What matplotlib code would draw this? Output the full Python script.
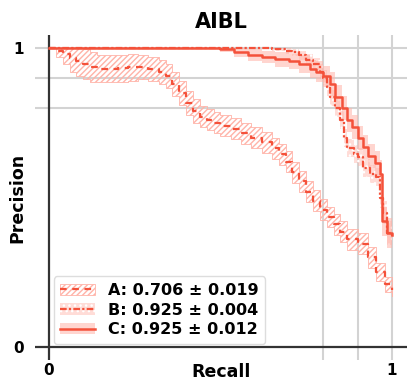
import matplotlib.pyplot as plt
from matplotlib.patches import Patch
from matplotlib.lines import Line2D
import numpy as np

# precision-recall curves (mean and half-width of the band)
recall_a = [0.00, 0.02, 0.04, 0.06, 0.08, 0.10, 0.12, 0.14, 0.17, 0.20, 0.23, 0.26, 0.29, 0.32,
            0.34, 0.36, 0.38, 0.40, 0.42, 0.44, 0.46, 0.48, 0.50, 0.53, 0.56, 0.59, 0.62, 0.65,
            0.67, 0.69, 0.71, 0.73, 0.75, 0.77, 0.79, 0.81, 0.83, 0.85, 0.87, 0.90, 0.93, 0.955,
            0.98, 1.00]
prec_a = [1.00, 0.99, 0.98, 0.965, 0.955, 0.945, 0.935, 0.93, 0.93, 0.932, 0.935, 0.935, 0.93, 0.92,
          0.905, 0.88, 0.85, 0.815, 0.79, 0.77, 0.76, 0.75, 0.74, 0.73, 0.715, 0.70, 0.685, 0.665,
          0.645, 0.62, 0.585, 0.555, 0.52, 0.49, 0.46, 0.435, 0.41, 0.385, 0.36, 0.345, 0.30, 0.25,
          0.21, 0.19]
band_a = [0.0, 0.02, 0.035, 0.045, 0.05, 0.05, 0.05, 0.045, 0.045, 0.045, 0.045, 0.04, 0.04, 0.04,
          0.04, 0.04, 0.04, 0.04, 0.04, 0.035, 0.035, 0.035, 0.035, 0.035, 0.035, 0.035, 0.035, 0.035,
          0.035, 0.035, 0.035, 0.035, 0.035, 0.035, 0.035, 0.035, 0.035, 0.035, 0.035, 0.035, 0.035, 0.03,
          0.025, 0.02]

recall_b = [0.00, 0.60, 0.65, 0.69, 0.71, 0.73, 0.75, 0.77, 0.79, 0.80, 0.81, 0.82, 0.835, 0.85,
            0.86, 0.87, 0.89, 0.90, 0.915, 0.935, 0.955, 0.965, 0.975, 0.985, 1.00]
prec_b = [1.00, 1.00, 0.995, 0.99, 0.985, 0.975, 0.96, 0.945, 0.92, 0.90, 0.87, 0.835, 0.80, 0.76,
          0.70, 0.665, 0.645, 0.635, 0.60, 0.58, 0.57, 0.50, 0.45, 0.38, 0.37]
band_b = [0.0, 0.0, 0.005, 0.01, 0.012, 0.015, 0.02, 0.02, 0.025, 0.025, 0.03, 0.03, 0.03, 0.03,
          0.03, 0.03, 0.03, 0.03, 0.03, 0.03, 0.03, 0.035, 0.04, 0.04, 0.04]

recall_c = [0.00, 0.48, 0.50, 0.54, 0.58, 0.62, 0.66, 0.70, 0.73, 0.76, 0.78, 0.80, 0.82, 0.835,
            0.855, 0.87, 0.885, 0.90, 0.915, 0.93, 0.95, 0.965, 0.97, 0.985, 1.00]
prec_c = [1.00, 1.00, 0.995, 0.985, 0.977, 0.97, 0.962, 0.955, 0.945, 0.93, 0.92, 0.905, 0.88, 0.835,
          0.80, 0.76, 0.735, 0.70, 0.67, 0.64, 0.615, 0.58, 0.42, 0.38, 0.375]
band_c = [0.0, 0.0, 0.01, 0.015, 0.02, 0.02, 0.025, 0.025, 0.03, 0.03, 0.035, 0.035, 0.04, 0.04,
          0.04, 0.04, 0.04, 0.04, 0.04, 0.04, 0.04, 0.045, 0.05, 0.05, 0.05]

labels = ["A: 0.706 \u00b1 0.019", "B: 0.925 \u00b1 0.004", "C: 0.925 \u00b1 0.012"]

red = "#f4513a"
pink = "#ffb3a8"

fig = plt.figure(figsize=(4.07, 3.81), dpi=100)
ax = fig.add_axes([0.086, 0.055, 0.914, 0.853])

for v in [0.8, 0.9, 1.0]:
    ax.axvline(v, color="#d3d3d3", lw=1.5, zorder=0)
    ax.axhline(v, color="#d3d3d3", lw=1.5, zorder=0)
ax.axvline(0, color="#333333", lw=1.6, zorder=1)
ax.axhline(0, color="#333333", lw=1.6, zorder=1)

def band(r, p, w):
    p = np.array(p)
    w = np.array(w)
    return r, np.clip(p - w, 0, 1), np.clip(p + w, 0, 1)

r, lo, hi = band(recall_a, prec_a, band_a)
ax.fill_between(r, lo, hi, step="post", facecolor="none", edgecolor=pink, hatch="//////", lw=0.6, zorder=2)
ax.plot(recall_a, prec_a, color=red, lw=1.6, ls=(0, (3, 2.5)), drawstyle="steps-post", zorder=3)

r, lo, hi = band(recall_b, prec_b, band_b)
ax.fill_between(r, lo, hi, step="post", facecolor=(1, 0.7, 0.66, 0.45), edgecolor="white", hatch="...", lw=0, zorder=2)
ax.plot(recall_b, prec_b, color=red, lw=1.6, ls=(0, (3, 1, 1, 1)), drawstyle="steps-post", zorder=3)

r, lo, hi = band(recall_c, prec_c, band_c)
ax.fill_between(r, lo, hi, step="post", facecolor=(1, 0.7, 0.66, 0.55), lw=0, zorder=2)
ax.plot(recall_c, prec_c, color=red, lw=1.8, drawstyle="steps-post", zorder=3)

ax.set_xlim(-0.041, 1.044)
ax.set_ylim(-0.043, 1.043)
for s in ax.spines.values():
    s.set_visible(False)
ax.set_xticks([0, 1])
ax.set_yticks([0, 1])
ax.set_xticklabels(["0", "1"], fontweight="bold", fontsize=11)
ax.set_yticklabels(["0", "1"], fontweight="bold", fontsize=11)
ax.tick_params(length=0)
ax.tick_params(axis="x", pad=2)
ax.tick_params(axis="y", pad=8)

ax.set_title("AIBL", fontweight="bold", fontsize=15, pad=5)
ax.set_xlabel("Recall", fontweight="bold", fontsize=12.5, va="center")
ax.set_ylabel("Precision", fontweight="bold", fontsize=12.5, va="center")
ax.xaxis.set_label_coords(0.5, -0.037)
ax.yaxis.set_label_coords(-0.048, 0.5)

handles = [
    (Patch(facecolor="white", edgecolor=pink, hatch="//////", lw=0.6),
     Line2D([], [], color=red, lw=1.6, ls=(0, (3, 2.5)))),
    (Patch(facecolor=(1, 0.7, 0.66, 0.45), edgecolor="white", hatch="...", lw=0),
     Line2D([], [], color=red, lw=1.6, ls=(0, (3, 1, 1, 1)))),
    (Patch(facecolor=(1, 0.7, 0.66, 0.55), lw=0),
     Line2D([], [], color=red, lw=1.8)),
]
leg = ax.legend(handles, labels, loc="lower left", bbox_to_anchor=(0.05, 0.05), borderaxespad=0,
                prop={"weight": "bold", "size": 11.5}, handlelength=2.2, labelspacing=0.3,
                framealpha=1, edgecolor="#dddddd")

fig.savefig("out.png", dpi=100)
